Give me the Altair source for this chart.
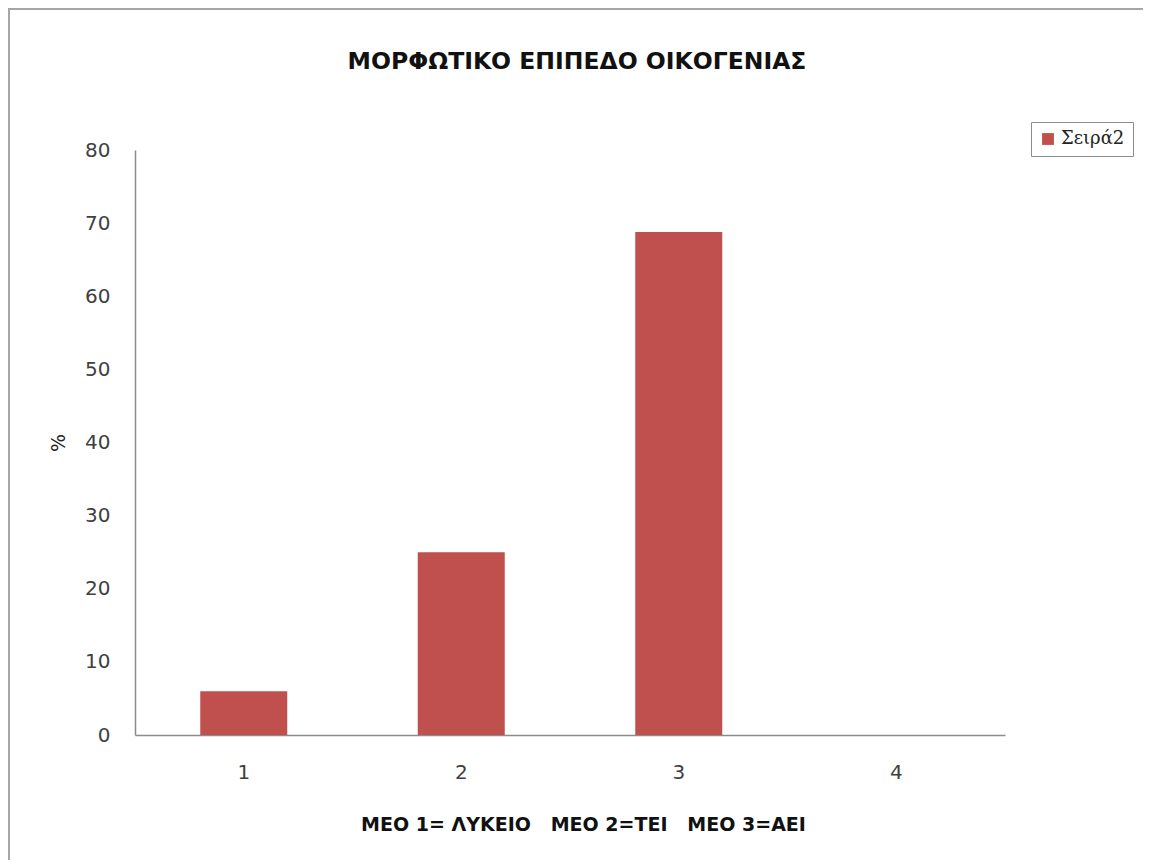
import altair as alt
import pandas as pd

categories = ["1", "2", "3", "4"]
values = [6.0, 25.0, 68.8, 0.0]
series = ["Σειρά2"] * 4

df = pd.DataFrame({"cat": categories, "val": values, "series": series})

W, H = 870, 585
PAD = {"left": 127, "top": 142, "right": 138, "bottom": 125}
NB = "\u00a0"
xtitle = f"ΜΕΟ 1= ΛΥΚΕΙΟ{NB}{NB}{NB}ΜΕΟ 2=ΤΕΙ{NB}{NB}{NB}ΜΕΟ 3=ΑΕΙ"
FONT = "DejaVu Sans"

bars = alt.Chart(df).mark_bar(color="#C0504D").encode(
    x=alt.X("cat:N", sort=categories,
            scale=alt.Scale(paddingInner=0.6, paddingOuter=0.3),
            axis=alt.Axis(title=xtitle, labelAngle=0,
                          ticks=False, domainColor="#8C8C8C", domainWidth=1.5,
                          labelFontSize=20, labelColor="#404040", labelFont=FONT,
                          labelPadding=27, titleFontSize=19, titleFont=FONT,
                          titleFontWeight="bold", titleColor="#111111", titlePadding=33,
                          titleX=448, grid=False)),
    y=alt.Y("val:Q", scale=alt.Scale(domain=[0, 80], nice=False),
            axis=alt.Axis(title="%", values=[0, 10, 20, 30, 40, 50, 60, 70, 80],
                          ticks=False, domainColor="#8C8C8C", domainWidth=1.5,
                          labelFontSize=20, labelColor="#404040", labelFont=FONT,
                          labelPadding=25, titleFontSize=19, titleFont=FONT,
                          titleColor="#222222", titleFontWeight="normal", titlePadding=16,
                          grid=False)),
    color=alt.Color("series:N", scale=alt.Scale(range=["#C0504D"]),
                    legend=alt.Legend(title=None, orient="none", legendX=896, legendY=-28,
                                      symbolType="square", symbolSize=140,
                                      labelFont="DejaVu Serif", labelFontSize=18,
                                      labelColor="#222222", strokeColor="#8C8C8C",
                                      padding=8, symbolStrokeWidth=0, labelOffset=4)),
)

frame_left = alt.Chart(df).mark_rule(color="#A6A6A6", strokeWidth=2).encode(
    x=alt.value(-126), y=alt.value(-142), y2=alt.value(710))
frame_top = alt.Chart(df).mark_rule(color="#A6A6A6", strokeWidth=2).encode(
    x=alt.value(-127), x2=alt.value(1008), y=alt.value(-141))

chart = alt.layer(frame_left, frame_top, bars).properties(
    width=W, height=H,
    autosize=alt.AutoSizeParams(type="none"),
    padding=PAD,
    background="white",
    title=alt.TitleParams("ΜΟΡΦΩΤΙΚΟ ΕΠΙΠΕΔΟ ΟΙΚΟΓΕΝΙΑΣ", font=FONT, fontSize=23.5,
                          fontWeight="bold", color="#111111", offset=-66, dx=7),
).configure_view(stroke=None)

chart.save("out.html", embed_options={"renderer": "svg", "actions": False})
